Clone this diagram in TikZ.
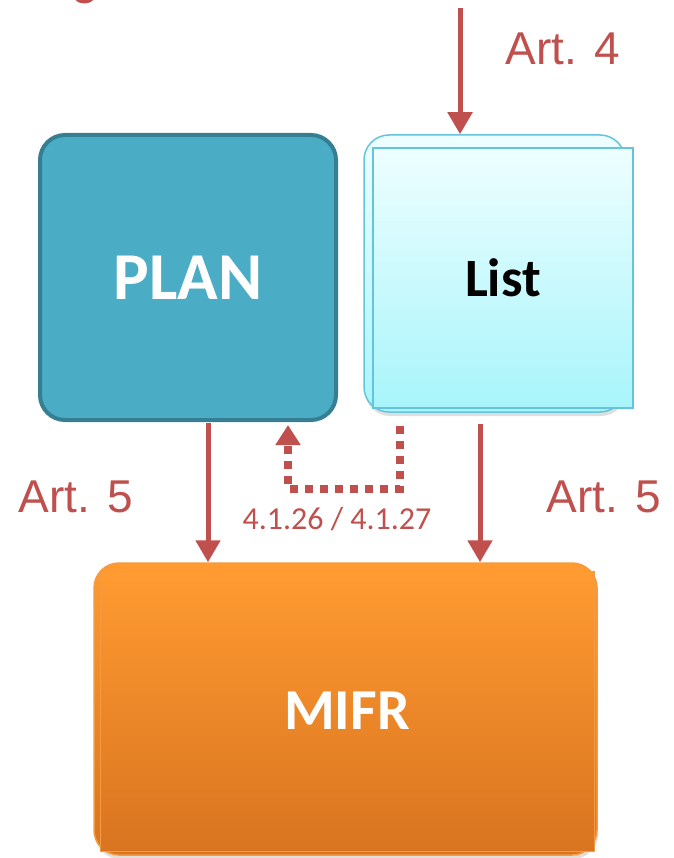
\documentclass[tikz,border=0pt]{standalone}
\usepackage{fontspec}
\setmainfont{Carlito}
\newfontfamily\arialfont{Liberation Sans}
\usetikzlibrary{arrows.meta,shadows}
\definecolor{artred}{HTML}{C0504D}
\definecolor{planfill}{HTML}{4BACC6}
\definecolor{planedge}{HTML}{367F93}
\definecolor{listtop}{HTML}{EEFEFF}
\definecolor{listbot}{HTML}{A8F5FB}
\definecolor{listedge}{HTML}{66C3DC}
\definecolor{mifrtop}{HTML}{FF9B31}
\definecolor{mifrbot}{HTML}{D97420}
\definecolor{mifredge}{HTML}{F59A40}
\tikzset{
  redarrow/.style={draw=artred, line width=5pt, -{Triangle[width=24pt,length=22pt]}},
  dotarrow/.style={draw=artred, line width=8pt, dash pattern=on 8pt off 7pt, -{Triangle[width=24pt,length=20pt]}},
  artlabel/.style={text=artred, font=\arialfont\fontsize{46}{46}\selectfont, inner sep=0pt},
  boxtext/.style={font=\bfseries\fontsize{#1}{#1}\selectfont},
}
\begin{document}
\begin{tikzpicture}[x=1pt,y=-1pt]
\useasboundingbox (0,0) rectangle (673,858);
\clip (0,0) rectangle (673,858);
% clipped fragment of a title letter at top
\node[anchor=base, text=artred, font=\arialfont\fontsize{50}{50}\selectfont, inner sep=0pt] (gfrag) at (85,-6) {g};
% PLAN
\node[draw=planedge, line width=4pt, fill=planfill, rounded corners=25pt,
      minimum width=296pt, minimum height=285pt, inner sep=0pt,
      text=white, boxtext=67] (plan) at (188,277.5) {PLAN};
% List (back and front)
\node[draw=listedge, line width=1.5pt, top color=listtop, bottom color=listbot, rounded corners=25pt,
      minimum width=261pt, minimum height=277pt, inner sep=0pt,
      drop shadow={opacity=0.25, shadow xshift=1pt, shadow yshift=-4pt}] (listback) at (494.5,273.5) {};
\node[draw=listedge, line width=1.5pt, top color=listtop, bottom color=listbot,
      minimum width=260pt, minimum height=260pt, inner sep=0pt,
      text=black, boxtext=54] (list) at (503,278) {List};
% MIFR (back and front)
\node[draw=mifredge, line width=1.5pt, top color=mifrtop, bottom color=mifrbot, rounded corners=25pt,
      minimum width=503pt, minimum height=292pt, inner sep=0pt,
      drop shadow={opacity=0.25, shadow xshift=1pt, shadow yshift=-4pt}] (mifrback) at (345.5,709) {};
\node[draw=mifredge, line width=1pt, top color=mifrtop, bottom color=mifrbot,
      minimum width=494pt, minimum height=280pt, inner sep=0pt,
      text=white, boxtext=58] (mifr) at (347,711) {MIFR};
% labels
\node[artlabel] (art4) at (563,49) {Art. 4};
\node[artlabel] (art5l) at (76,497) {Art. 5};
\node[artlabel] (art5r) at (604,497) {Art. 5};
\node[text=artred, font=\fontsize{32}{32}\selectfont, inner sep=0pt] (ref) at (337,519) {4.1.26 / 4.1.27};
% arrows
\coordinate (topin) at (460,8);
\draw[redarrow] (topin) -- (topin |- listback.north);
\draw[redarrow] ([xshift=20pt,yshift=-1pt]plan.south) -- ([xshift=20pt]plan.south |- mifrback.north);
\draw[redarrow] ([xshift=-23pt,yshift=-15pt]list.south) -- ([xshift=-23pt]list.south |- mifrback.north);
\draw[dotarrow] ([xshift=-103pt,yshift=-17pt]list.south) -- ++(0,63) -| ([xshift=100pt,yshift=-3pt]plan.south);
\end{tikzpicture}
\end{document}
